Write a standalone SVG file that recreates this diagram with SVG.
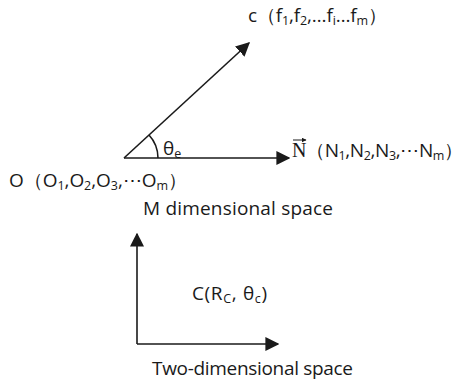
<svg xmlns="http://www.w3.org/2000/svg" width="468" height="382" viewBox="0 0 468 382">
<style>
text{font-family:"Open Sans","Liberation Sans",sans-serif;font-size:19px;fill:#1a1a1a}
.sub{font-size:12.5px}
.ln{stroke:#1a1a1a;stroke-width:1.6;fill:none}
.srf{font-family:"Liberation Serif","DejaVu Serif",serif;font-size:20px}
</style>
<defs>
<marker id="ahb" viewBox="0 0 10 10" refX="9" refY="5" markerWidth="14" markerHeight="14" markerUnits="userSpaceOnUse" orient="auto">
<path d="M0,0 L10,5 L0,10 Z" fill="#1a1a1a"/>
</marker>
<marker id="ahs" viewBox="0 0 10 10" refX="9" refY="5" markerWidth="5" markerHeight="5" markerUnits="userSpaceOnUse" orient="auto">
<path d="M0,0 L10,5 L0,10 Z" fill="#1a1a1a"/>
</marker>
</defs>
<g id="connectors">
<line class="ln" x1="124" y1="158" x2="249" y2="43" marker-end="url(#ahb)"/>
<line class="ln" x1="124" y1="158" x2="289" y2="158" marker-end="url(#ahb)"/>
<path class="ln" d="M158,158 A34,34 0 0 0 149,135"/>
<line class="ln" x1="137" y1="344" x2="137" y2="234" marker-end="url(#ahb)"/>
<line class="ln" x1="137" y1="344" x2="278" y2="344" marker-end="url(#ahb)"/>
</g>
<g id="node-c">
<text x="248" y="22" textLength="139">c（f<tspan class="sub" dy="3">1</tspan><tspan dy="-3">,f</tspan><tspan class="sub" dy="3">2</tspan><tspan dy="-3">,…f</tspan><tspan class="sub" dy="3">i</tspan><tspan dy="-3">…f</tspan><tspan class="sub" dy="3">m</tspan><tspan dy="-3">）</tspan></text>
</g>
<g id="node-theta">
<text x="163" y="155">θ<tspan class="sub" dy="3">e</tspan></text>
</g>
<g id="node-N">
<line x1="293" y1="140" x2="306" y2="140" stroke="#1a1a1a" stroke-width="1" marker-end="url(#ahs)"/>
<text x="292" y="157" textLength="171"><tspan class="srf">N</tspan>（N<tspan class="sub" dy="3">1</tspan><tspan dy="-3">,N</tspan><tspan class="sub" dy="3">2</tspan><tspan dy="-3">,N</tspan><tspan class="sub" dy="3">3</tspan><tspan dy="-3">,⋯N</tspan><tspan class="sub" dy="3">m</tspan><tspan dy="-3">）</tspan></text>
</g>
<g id="node-O">
<text x="9" y="187" textLength="178">O（O<tspan class="sub" dy="3">1</tspan><tspan dy="-3">,O</tspan><tspan class="sub" dy="3">2</tspan><tspan dy="-3">,O</tspan><tspan class="sub" dy="3">3</tspan><tspan dy="-3">,⋯O</tspan><tspan class="sub" dy="3">m</tspan><tspan dy="-3">）</tspan></text>
</g>
<g id="node-M">
<text x="143" y="215" textLength="190">M dimensional space</text>
</g>
<g id="node-C">
<text x="192" y="300" textLength="75">C(R<tspan class="sub" dy="3">C</tspan><tspan dy="-3">, θ</tspan><tspan class="sub" dy="3">c</tspan><tspan dy="-3">)</tspan></text>
</g>
<g id="node-2d">
<text x="152" y="375" textLength="201">Two-dimensional space</text>
</g>
</svg>
